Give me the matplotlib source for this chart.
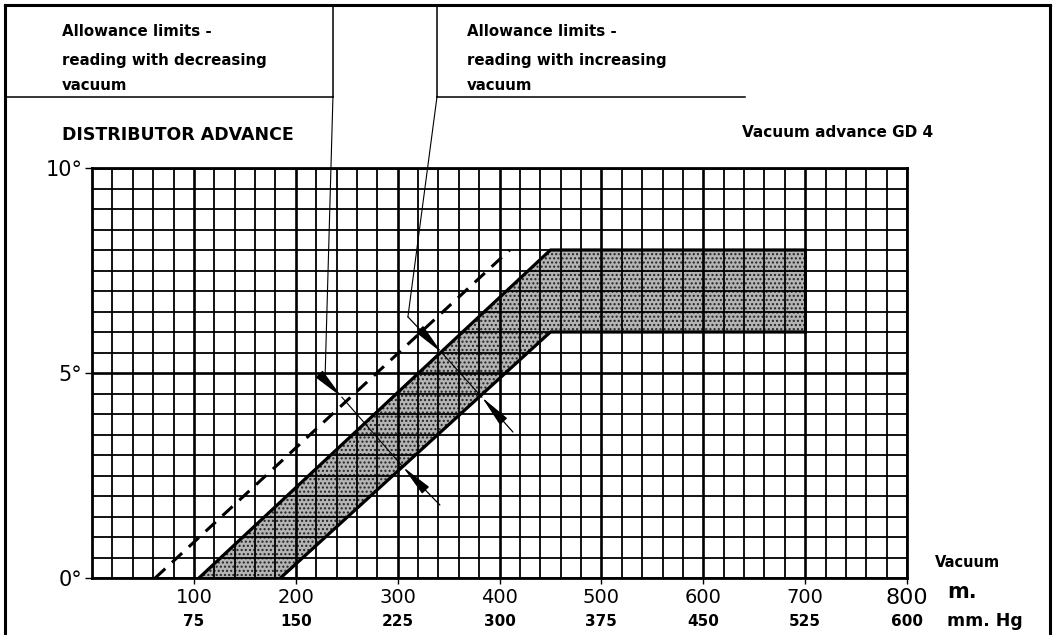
import numpy as np
import matplotlib
matplotlib.use('Agg')
import matplotlib.pyplot as plt
from matplotlib.lines import Line2D
from matplotlib.transforms import blended_transform_factory

W, H = 1058, 635

# Axis ticks
vac_ticks = [100, 200, 300, 400, 500, 600, 700, 800]          # vacuum, mbar ("m.")
mmhg_ticks = [75, 150, 225, 300, 375, 450, 525, 600]          # same, mm Hg
deg_ticks = [0, 5, 10]
deg_labels = ['0°', '5°', '10°']

# Allowance band (vacuum, degrees)
upper_x = [105, 450, 700]
upper_y = [0, 8, 8]
lower_x = [185, 450, 700]
lower_y = [0, 6, 6]
# Dashed limit for decreasing vacuum
dash_x = [62, 410]
dash_y = [0, 8]

# Dimension marks (vacuum, degrees)
dec_leader_x = [236.5, 228.7]
dec_leader_y = [11.73, 4.83]
dec_tip1 = (245.3, 4.41)
dec_tip2 = (305.2, 2.71)
dec_tail2 = (341.5, 1.78)
inc_leader_x = [338.6, 310.1]
inc_leader_y = [11.73, 6.37]
inc_tip1 = (343.5, 5.49)
inc_tip2 = (382.7, 4.41)
inc_tail2 = (413.2, 3.56)


def fx(px):
    return px / W


def fy(py):
    return 1 - py / H


fig = plt.figure(figsize=(W / 100, H / 100), dpi=100)
ax = fig.add_axes([fx(92), fy(578), 815 / W, 410 / H])
ax.set_xlim(0, 800)
ax.set_ylim(0, 10)

# grid paper
ax.set_xticks(vac_ticks)
ax.set_xticklabels([str(v) for v in vac_ticks], fontsize=14)
ax.set_xticks(np.arange(0, 801, 20), minor=True)
ax.set_yticks(deg_ticks)
ax.set_yticklabels(deg_labels, fontsize=15)
ax.set_yticks(np.arange(0, 10.01, 0.5), minor=True)
ax.tick_params(which='minor', length=0)
ax.tick_params(axis='x', which='major', length=4, width=1, pad=3)
ax.tick_params(axis='y', which='major', length=5, width=1, pad=2)
ax.xaxis.get_majorticklabels()[-1].set_fontsize(16)
ax.grid(which='minor', color='black', lw=1.3)
ax.grid(which='major', color='black', lw=1.9)
ax.set_axisbelow('line')
for s in ax.spines.values():
    s.set_linewidth(2)

# band
band_x = upper_x + lower_x[::-1]
band_y = upper_y + lower_y[::-1]
ax.fill(band_x, band_y, facecolor='#b4b4b4', edgecolor='#222222', hatch='....', lw=0, zorder=1)
ax.plot(upper_x, upper_y, color='black', lw=2.3, zorder=3)
ax.plot(lower_x, lower_y, color='black', lw=2.3, zorder=3)
ax.plot([upper_x[-1], lower_x[-1]], [upper_y[-1], lower_y[-1]], color='black', lw=2, zorder=3)
ax.plot(dash_x, dash_y, color='black', lw=2.2, dashes=(4.5, 3), zorder=3)

# dimension arrows
aprops = dict(arrowstyle='-|>,head_length=1.0,head_width=0.15', mutation_scale=20,
              color='black', lw=0.9, shrinkA=0, shrinkB=0)
ax.plot(dec_leader_x, dec_leader_y, color='black', lw=0.8, clip_on=False, zorder=4)
ax.annotate('', xy=dec_tip1, xytext=(dec_leader_x[-1], dec_leader_y[-1]),
            arrowprops=aprops, annotation_clip=False)
ax.plot([dec_tip1[0], dec_tip2[0]], [dec_tip1[1], dec_tip2[1]], color='black', lw=0.8, zorder=4)
ax.annotate('', xy=dec_tip2, xytext=dec_tail2, arrowprops=aprops, annotation_clip=False)

ax.plot(inc_leader_x, inc_leader_y, color='black', lw=0.8, clip_on=False, zorder=4)
ax.annotate('', xy=inc_tip1, xytext=(inc_leader_x[-1], inc_leader_y[-1]),
            arrowprops=aprops, annotation_clip=False)
ax.plot([inc_tip1[0], inc_tip2[0]], [inc_tip1[1], inc_tip2[1]], color='black', lw=0.8, zorder=4)
ax.annotate('', xy=inc_tip2, xytext=inc_tail2, arrowprops=aprops, annotation_clip=False)

# mm Hg row under the ticks
tr = blended_transform_factory(ax.transData, fig.transFigure)
for v, m in zip(vac_ticks, mmhg_ticks):
    ax.text(v, fy(626), str(m), transform=tr, ha='center', va='baseline',
            fontsize=11, fontweight='bold')

# frame and header boxes
frame = [
    ([5, 5], [635, 5], 2.2),
    ([5, 1050], [5, 5], 2.2),
    ([1050, 1050], [5, 635], 2.2),
    ([5, 333], [97, 97], 1.1),
    ([333, 333], [5, 97], 1.1),
    ([437, 437], [5, 97], 1.1),
    ([437, 745], [97, 97], 1.1),
]
for xs, ys, lw in frame:
    fig.add_artist(Line2D([fx(x) for x in xs], [fy(y) for y in ys],
                          transform=fig.transFigure, color='black', lw=lw))

hdr_left = ['Allowance limits -', 'reading with decreasing', 'vacuum']
hdr_right = ['Allowance limits -', 'reading with increasing', 'vacuum']
for txt, base in zip(hdr_left, [36, 65, 90]):
    fig.text(fx(62), fy(base), txt, fontsize=10.8, fontweight='bold', va='baseline')
for txt, base in zip(hdr_right, [36, 65, 90]):
    fig.text(fx(467), fy(base), txt, fontsize=10.8, fontweight='bold', va='baseline')

fig.text(fx(62), fy(140), 'DISTRIBUTOR ADVANCE', fontsize=12.5, fontweight='bold', va='baseline')
fig.text(fx(742), fy(137), 'Vacuum advance GD 4', fontsize=11, fontweight='bold', va='baseline')
fig.text(fx(935), fy(567), 'Vacuum', fontsize=10.5, fontweight='bold', va='baseline')
fig.text(fx(947), fy(598), 'm.', fontsize=15, fontweight='bold', va='baseline')
fig.text(fx(947), fy(626), 'mm. Hg', fontsize=12.5, fontweight='bold', va='baseline')

fig.savefig('out.png', dpi=100)
